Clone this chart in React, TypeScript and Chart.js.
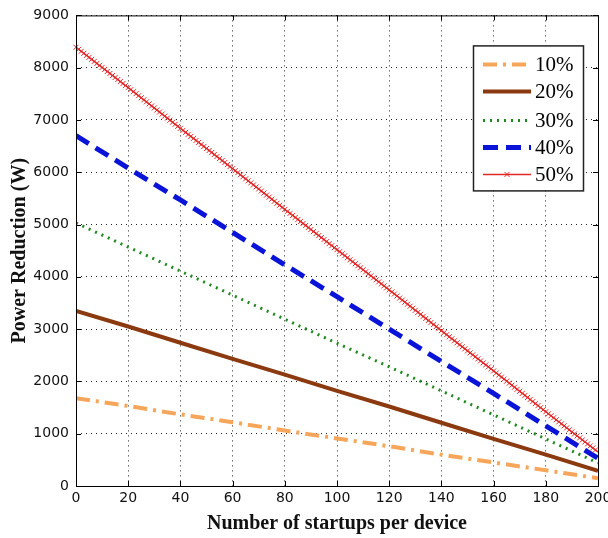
import React, { useEffect, useRef } from "react";
import { Chart, registerables } from "chart.js";

Chart.register(...registerables);

const startups = [0, 20, 40, 60, 80, 100, 120, 140, 160, 180, 200];
const seriesLabels = ["10%", "20%", "30%", "40%", "50%"];
const p10 = [1680, 1530, 1370, 1220, 1060, 910, 760, 600, 450, 300, 150];
const p20 = [3350, 3050, 2740, 2430, 2130, 1820, 1520, 1210, 900, 600, 290];
const p30 = [5030, 4570, 4110, 3650, 3190, 2730, 2280, 1820, 1360, 900, 440];
const p40 = [6700, 6080, 5470, 4850, 4230, 3620, 3000, 2380, 1770, 1150, 530];
const p50 = [8390, 7620, 6840, 6070, 5290, 4520, 3750, 2970, 2200, 1420, 650];
const yTicks = [0, 1000, 2000, 3000, 4000, 5000, 6000, 7000, 8000, 9000];

const styles = [
  { color: "#F5A65B", width: 4, dash: [14, 6, 3, 6] },
  { color: "#8B3A10", width: 4, dash: [] as number[] },
  { color: "#1E8A1E", width: 3, dash: [2, 5] },
  { color: "#0A14D8", width: 5, dash: [15, 8] },
  { color: "#E02828", width: 1.5, dash: [] as number[] },
];

function drawX(ctx: CanvasRenderingContext2D, x: number, y: number, s: number) {
  ctx.moveTo(x - s, y - s);
  ctx.lineTo(x + s, y + s);
  ctx.moveTo(x - s, y + s);
  ctx.lineTo(x + s, y - s);
}

const decorPlugin = {
  id: "decor",
  afterDatasetsDraw(chart: any) {
    const ctx = chart.ctx as CanvasRenderingContext2D;
    const ca = chart.chartArea;
    const meta = chart.getDatasetMeta(4);
    const pts = meta.data;
    ctx.save();
    ctx.strokeStyle = styles[4].color;
    ctx.lineWidth = 1;
    ctx.beginPath();
    for (let i = 0; i < pts.length - 1; i++) {
      const a = pts[i], b = pts[i + 1];
      const dx = b.x - a.x, dy = b.y - a.y;
      const len = Math.hypot(dx, dy);
      const n = Math.floor(len / 3.2);
      for (let k = 0; k < n; k++) {
        const t = k / n;
        drawX(ctx, a.x + dx * t, a.y + dy * t, 2.5);
      }
    }
    ctx.stroke();
    ctx.restore();

    // frame and inward tick marks
    ctx.save();
    ctx.strokeStyle = "#000";
    ctx.lineWidth = 1;
    ctx.strokeRect(ca.left + 0.5, ca.top + 0.5, ca.right - ca.left, ca.bottom - ca.top);
    const xs = chart.scales.x;
    const ys = chart.scales.y;
    ctx.beginPath();
    for (const v of startups) {
      const px = Math.round(xs.getPixelForValue(v)) + 0.5;
      ctx.moveTo(px, ca.bottom);
      ctx.lineTo(px, ca.bottom - 5);
      ctx.moveTo(px, ca.top);
      ctx.lineTo(px, ca.top + 5);
    }
    for (const v of yTicks) {
      const py = Math.round(ys.getPixelForValue(v)) + 0.5;
      ctx.moveTo(ca.left, py);
      ctx.lineTo(ca.left + 5, py);
      ctx.moveTo(ca.right, py);
      ctx.lineTo(ca.right - 5, py);
    }
    ctx.stroke();
    ctx.restore();

    const bx = ca.right - 125;
    const by = ca.top + 30;
    const bw = 110;
    const bh = 145;
    ctx.save();
    ctx.fillStyle = "#fff";
    ctx.fillRect(bx, by, bw, bh);
    ctx.strokeStyle = "#222";
    ctx.lineWidth = 1.5;
    ctx.strokeRect(bx + 0.5, by + 0.5, bw, bh);
    const rows = [19, 46, 75, 102, 129];
    for (let i = 0; i < 5; i++) {
      const y = by + rows[i];
      const st = styles[i];
      ctx.beginPath();
      ctx.strokeStyle = st.color;
      ctx.lineWidth = st.width;
      ctx.setLineDash(st.dash);
      ctx.moveTo(bx + 10, y);
      ctx.lineTo(bx + 58, y);
      ctx.stroke();
      ctx.setLineDash([]);
      if (i === 4) {
        ctx.beginPath();
        ctx.lineWidth = 1;
        drawX(ctx, bx + 34, y, 2.5);
        ctx.stroke();
      }
      ctx.fillStyle = "#000";
      ctx.font = "21px 'Liberation Serif', serif";
      ctx.textBaseline = "middle";
      ctx.textAlign = "left";
      ctx.fillText(seriesLabels[i], bx + 62, y + 1);
    }
    ctx.restore();
  },
};

export default function App() {
  const ref = useRef<HTMLCanvasElement | null>(null);
  useEffect(() => {
    if (!ref.current) return;
    const data = [p10, p20, p30, p40, p50];
    const chart = new Chart(ref.current, {
      type: "line",
      data: {
        datasets: data.map((arr, i) => ({
          label: seriesLabels[i],
          data: arr.map((v, j) => ({ x: startups[j], y: v })),
          borderColor: styles[i].color,
          borderWidth: styles[i].width,
          borderDash: styles[i].dash,
          pointRadius: 0,
          fill: false,
          tension: 0,
        })),
      },
      options: {
        responsive: false,
        animation: false,
        layout: { padding: { top: 13, right: 10, left: 0, bottom: 0 } },
        plugins: { legend: { display: false }, tooltip: { enabled: false } },
        scales: {
          x: {
            type: "linear",
            min: 0,
            max: 200,
            afterBuildTicks: (s: any) => {
              s.ticks = startups.map((v) => ({ value: v }));
            },
            afterFit: (s: any) => {
              s.height = 52;
              s.paddingLeft = 0;
              s.paddingRight = 0;
            },
            grid: {
              color: "#222",
              lineWidth: 1,
              drawTicks: false,
            },
            border: { display: false, dash: [1, 4] },
            ticks: {
              color: "#111",
              font: { family: "'DejaVu Sans', sans-serif", size: 14 },
              padding: 4,
              maxRotation: 0,
              autoSkip: false,
              callback: (v: any) => String(v),
            },
            title: {
              display: true,
              text: "Number of startups per device",
              color: "#111",
              font: { family: "'Liberation Serif', serif", size: 20, weight: "bold" },
              padding: { top: 0, bottom: 2 },
            },
          },
          y: {
            type: "linear",
            min: 0,
            max: 9000,
            afterBuildTicks: (s: any) => {
              s.ticks = yTicks.map((v) => ({ value: v }));
            },
            afterFit: (s: any) => {
              s.width = 76;
            },
            grid: {
              color: "#222",
              lineWidth: 1,
              drawTicks: false,
            },
            border: { display: false, dash: [1, 4] },
            ticks: {
              color: "#111",
              font: { family: "'DejaVu Sans', sans-serif", size: 14 },
              padding: 7,
              autoSkip: false,
              callback: (v: any) => String(v),
            },
            title: {
              display: true,
              text: "Power Reduction (W)",
              color: "#111",
              font: { family: "'Liberation Serif', serif", size: 20, weight: "bold" },
              padding: { top: 8, bottom: 0 },
            },
          },
        },
      },
      plugins: [decorPlugin],
    } as any);
    return () => chart.destroy();
  }, []);
  return (
    <div style={{ position: "fixed", left: 0, top: 0, width: 608, height: 538, background: "#fff" }}>
      <canvas ref={ref} width={608} height={538} style={{ width: 608, height: 538 }} />
    </div>
  );
}
